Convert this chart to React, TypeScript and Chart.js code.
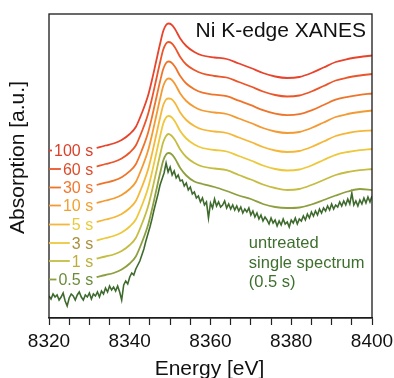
import React, { useEffect, useRef } from 'react';
import { Chart, registerables } from 'chart.js';

Chart.register(...registerables);

const FONT = '"Liberation Sans", Arial, Helvetica, sans-serif';

// ---- data ----
const chartTitle = 'Ni K-edge XANES';
const xAxisTitle = 'Energy [eV]';
const yAxisTitle = 'Absorption [a.u.]';
const xTickLabels = [8320, 8340, 8360, 8380, 8400];

const seriesLabels = ['100 s', '60 s', '30 s', '10 s', '5 s', '3 s', '1 s', '0.5 s'];
const seriesColors = ['#e8432b', '#eb552a', '#ef742b', '#f39a33', '#f5b73a', '#edc83d', '#c5bd42', '#8d9f3e'];
const labelColors = ['#d9412a', '#dc4a2a', '#f07830', '#f0a030', '#e6cc3a', '#a8903e', '#bcae3c', '#6b8c3a'];
const noisyColor = '#3e6b2d';
const noisyLabel = ['untreated', 'single spectrum', '(0.5 s)'];

const smoothEnergy = [8331.8, 8334, 8336, 8338, 8340, 8341.5, 8343, 8344.5, 8345.5, 8346.5, 8347.5, 8348.3, 8349, 8349.6, 8350.3, 8351.2, 8352.5, 8354, 8356, 8358, 8361, 8364, 8367, 8370, 8373, 8376, 8379, 8382, 8385, 8388, 8391, 8394, 8397, 8400];

const s100 = [1.70, 1.725, 1.745, 1.78, 1.84, 1.91, 2.05, 2.22, 2.38, 2.56, 2.74, 2.87, 2.93, 2.945, 2.935, 2.89, 2.795, 2.72, 2.66, 2.625, 2.605, 2.59, 2.545, 2.50, 2.45, 2.415, 2.40, 2.41, 2.45, 2.505, 2.56, 2.59, 2.61, 2.625];
const s60 = [1.515, 1.54, 1.56, 1.595, 1.655, 1.725, 1.865, 2.035, 2.195, 2.375, 2.555, 2.685, 2.745, 2.76, 2.75, 2.705, 2.61, 2.535, 2.48, 2.445, 2.42, 2.405, 2.36, 2.315, 2.265, 2.23, 2.215, 2.225, 2.265, 2.32, 2.375, 2.405, 2.425, 2.44];
const s30 = [1.33, 1.353, 1.373, 1.408, 1.468, 1.538, 1.678, 1.848, 2.008, 2.188, 2.365, 2.49, 2.55, 2.565, 2.555, 2.512, 2.42, 2.345, 2.288, 2.253, 2.233, 2.218, 2.173, 2.128, 2.078, 2.043, 2.028, 2.038, 2.076, 2.13, 2.183, 2.212, 2.232, 2.245];
const s10 = [1.15, 1.175, 1.195, 1.23, 1.29, 1.36, 1.50, 1.67, 1.83, 2.01, 2.19, 2.32, 2.38, 2.395, 2.385, 2.34, 2.245, 2.17, 2.11, 2.075, 2.055, 2.04, 1.995, 1.95, 1.90, 1.865, 1.85, 1.86, 1.90, 1.955, 2.01, 2.04, 2.06, 2.075];
const s5 = [0.96, 0.985, 1.005, 1.04, 1.10, 1.17, 1.31, 1.48, 1.64, 1.82, 2.00, 2.13, 2.185, 2.195, 2.19, 2.15, 2.055, 1.98, 1.92, 1.885, 1.865, 1.85, 1.805, 1.76, 1.71, 1.675, 1.66, 1.67, 1.71, 1.765, 1.82, 1.85, 1.868, 1.875];
const s3 = [0.775, 0.80, 0.82, 0.855, 0.915, 0.985, 1.125, 1.295, 1.455, 1.635, 1.815, 1.945, 2.005, 2.02, 2.01, 1.965, 1.87, 1.795, 1.735, 1.70, 1.68, 1.665, 1.62, 1.575, 1.525, 1.49, 1.475, 1.485, 1.525, 1.58, 1.632, 1.66, 1.678, 1.69];
const s1 = [0.595, 0.615, 0.635, 0.67, 0.73, 0.80, 0.94, 1.11, 1.27, 1.45, 1.63, 1.76, 1.82, 1.84, 1.825, 1.78, 1.685, 1.61, 1.55, 1.515, 1.495, 1.478, 1.43, 1.385, 1.335, 1.30, 1.28, 1.29, 1.33, 1.38, 1.43, 1.46, 1.478, 1.49];
const s05 = [0.41, 0.43, 0.45, 0.485, 0.545, 0.615, 0.755, 0.925, 1.085, 1.265, 1.445, 1.575, 1.635, 1.65, 1.64, 1.595, 1.50, 1.425, 1.365, 1.34, 1.31, 1.27, 1.225, 1.19, 1.14, 1.11, 1.10, 1.105, 1.135, 1.18, 1.225, 1.265, 1.29, 1.28];

const noisyEnergy = [
  8320, 8320.5, 8321, 8321.5, 8322, 8322.5, 8323, 8323.5, 8324, 8324.5,
  8325, 8325.5, 8326, 8326.5, 8327, 8327.5, 8328, 8328.5, 8329, 8329.5,
  8330, 8330.5, 8331, 8331.5, 8332, 8332.5, 8333, 8333.5, 8334, 8334.5,
  8335, 8335.5, 8336, 8336.5, 8337, 8337.5, 8338, 8338.5, 8339, 8339.5,
  8340, 8340.5, 8341, 8341.5, 8342, 8342.5, 8343, 8343.5, 8344, 8344.5,
  8345, 8345.5, 8346, 8346.5, 8347, 8347.5, 8348, 8348.5, 8349, 8349.5,
  8350, 8350.5, 8351, 8351.5, 8352, 8352.5, 8353, 8353.5, 8354, 8354.5,
  8355, 8355.5, 8356, 8356.5, 8357, 8357.5, 8358, 8358.5, 8359, 8359.5,
  8360, 8360.5, 8361, 8361.5, 8362, 8362.5, 8363, 8363.5, 8364, 8364.5,
  8365, 8365.5, 8366, 8366.5, 8367, 8367.5, 8368, 8368.5, 8369, 8369.5,
  8370, 8370.5, 8371, 8371.5, 8372, 8372.5, 8373, 8373.5, 8374, 8374.5,
  8375, 8375.5, 8376, 8376.5, 8377, 8377.5, 8378, 8378.5, 8379, 8379.5,
  8380, 8380.5, 8381, 8381.5, 8382, 8382.5, 8383, 8383.5, 8384, 8384.5,
  8385, 8385.5, 8386, 8386.5, 8387, 8387.5, 8388, 8388.5, 8389, 8389.5,
  8390, 8390.5, 8391, 8391.5, 8392, 8392.5, 8393, 8393.5, 8394, 8394.5,
  8395, 8395.5, 8396, 8396.5, 8397, 8397.5, 8398, 8398.5, 8399, 8399.5,
  8400,
];
const noisyValues = [
  0.22, 0.19, 0.24, 0.21, 0.23, 0.18, 0.21, 0.25, 0.17, 0.12,
  0.20, 0.24, 0.22, 0.18, 0.23, 0.26, 0.21, 0.18, 0.23, 0.21,
  0.25, 0.19, 0.24, 0.22, 0.26, 0.21, 0.27, 0.24, 0.30, 0.26,
  0.32, 0.28, 0.31, 0.27, 0.32, 0.26, 0.18, 0.33, 0.37, 0.34,
  0.41, 0.45, 0.43, 0.49, 0.53, 0.57, 0.63, 0.69, 0.77, 0.84,
  0.91, 0.99, 1.08, 1.16, 1.24, 1.33, 1.39, 1.45, 1.55, 1.46,
  1.51, 1.43, 1.47, 1.40, 1.43, 1.37, 1.38, 1.32, 1.35, 1.28,
  1.31, 1.24, 1.26, 1.20, 1.22, 1.16, 1.20, 1.13, 1.16, 1.00,
  1.15, 1.10, 1.19, 1.12, 1.16, 1.11, 1.13, 1.17, 1.10, 1.14,
  1.09, 1.13, 1.08, 1.12, 1.07, 1.11, 1.05, 1.09, 1.06, 1.10,
  1.03, 1.07, 1.01, 1.05, 0.99, 1.03, 0.97, 1.01, 0.98, 0.94,
  1.00, 0.95, 0.98, 0.92, 0.97, 0.93, 0.99, 0.94, 0.96, 0.91,
  0.98, 0.95, 1.00, 0.94, 0.99, 0.97, 1.02, 0.98, 1.04, 1.00,
  1.06, 1.02, 1.07, 1.03, 1.09, 1.05, 1.10, 1.07, 1.12, 1.08,
  1.14, 1.09, 1.13, 1.11, 1.16, 1.12, 1.17, 1.13, 1.19, 1.14,
  1.25, 1.13, 1.17, 1.12, 1.18, 1.14, 1.20, 1.15, 1.21, 1.16,
  1.22,
];

const smoothSeries = [s100, s60, s30, s10, s5, s3, s1, s05];

const annotPlugin = {
  id: 'annot',
  afterDraw(chart: any) {
    const { ctx, chartArea: a, scales } = chart;
    const xs = scales.x;
    const ys = scales.y;
    ctx.save();
    // frame
    ctx.strokeStyle = '#1a1a1a';
    ctx.lineWidth = 1.3;
    ctx.strokeRect(a.left, a.top, a.right - a.left, a.bottom - a.top);

    // title
    ctx.fillStyle = '#111';
    ctx.font = `21px ${FONT}`;
    ctx.textAlign = 'right';
    ctx.textBaseline = 'alphabetic';
    ctx.fillText(chartTitle, a.right - 6, a.top + 23);

    // series labels with leading dash
    ctx.font = `16px ${FONT}`;
    const xr = xs.getPixelForValue(smoothEnergy[0]) - 3.5;
    smoothSeries.forEach((s, i) => {
      const yc = ys.getPixelForValue(s[0]) + 2.5;
      const w = ctx.measureText(seriesLabels[i]).width;
      ctx.fillStyle = labelColors[i];
      ctx.textAlign = 'right';
      ctx.fillText(seriesLabels[i], xr, yc + 5.8);
      const dashEnd = xr - w - 2;
      if (dashEnd > a.left) {
        ctx.strokeStyle = seriesColors[i];
        ctx.lineWidth = 1.8;
        ctx.beginPath();
        ctx.moveTo(a.left, yc);
        ctx.lineTo(dashEnd, yc);
        ctx.stroke();
      }
    });

    // untreated label
    ctx.fillStyle = '#3f6f2e';
    ctx.font = `16.5px ${FONT}`;
    ctx.textAlign = 'left';
    const lx = xs.getPixelForValue(8369.5);
    const baseY = [248, 267.5, 287];
    noisyLabel.forEach((t, i) => ctx.fillText(t, lx, baseY[i]));

    // axis titles
    ctx.fillStyle = '#111';
    ctx.font = `21px ${FONT}`;
    ctx.textAlign = 'center';
    ctx.fillText(xAxisTitle, (a.left + a.right) / 2 - 1, 375);
    ctx.translate(23.5, 157.5);
    ctx.rotate(-Math.PI / 2);
    ctx.fillText(yAxisTitle, 0, 0);
    ctx.restore();
  },
};

export default function App() {
  const ref = useRef<HTMLCanvasElement>(null);
  useEffect(() => {
    const canvas = ref.current;
    if (!canvas) return;
    const datasets: any[] = smoothSeries.map((s, i) => ({
      label: seriesLabels[i],
      data: smoothEnergy.map((e, j) => ({ x: e, y: s[j] })),
      borderColor: seriesColors[i],
      borderWidth: 1.8,
      pointRadius: 0,
      cubicInterpolationMode: 'monotone',
      fill: false,
    }));
    datasets.push({
      label: 'untreated',
      data: noisyEnergy.map((e, j) => ({ x: e, y: noisyValues[j] })),
      borderColor: noisyColor,
      borderWidth: 1.6,
      pointRadius: 0,
      tension: 0,
      fill: false,
    });
    const chart = new Chart(canvas, {
      type: 'line',
      data: { datasets },
      options: {
        responsive: false,
        animation: false,
        devicePixelRatio: 1,
        layout: { padding: { left: 49, top: 14, right: 22, bottom: 24.6 } },
        plugins: {
          legend: { display: false },
          tooltip: { enabled: false },
          title: { display: false },
        },
        scales: {
          x: {
            type: 'linear',
            min: 8320,
            max: 8400,
            afterFit: (scale: any) => {
              scale.height = 35.4;
              scale.paddingLeft = 0;
              scale.paddingRight = 0;
            },
            ticks: {
              stepSize: 5,
              autoSkip: false,
              maxRotation: 0,
              minRotation: 0,
              padding: 5.6,
              color: '#111',
              font: { family: FONT, size: 19 },
              callback: (v: any) => (xTickLabels.includes(Number(v)) ? String(v) : ''),
            },
            grid: {
              display: true,
              drawOnChartArea: false,
              drawTicks: true,
              tickLength: 7,
              tickColor: '#222',
              tickWidth: 1.2,
            },
            border: { display: true, color: '#222', width: 1.3 },
          },
          y: { type: 'linear', display: false, min: 0, max: 3.04 },
        },
      } as any,
      plugins: [annotPlugin],
    });
    return () => chart.destroy();
  }, []);
  return (
    <div style={{ position: 'fixed', left: 0, top: 0, width: 394, height: 378, background: '#fff' }}>
      <canvas ref={ref} width={394} height={378} style={{ display: 'block' }} />
    </div>
  );
}
